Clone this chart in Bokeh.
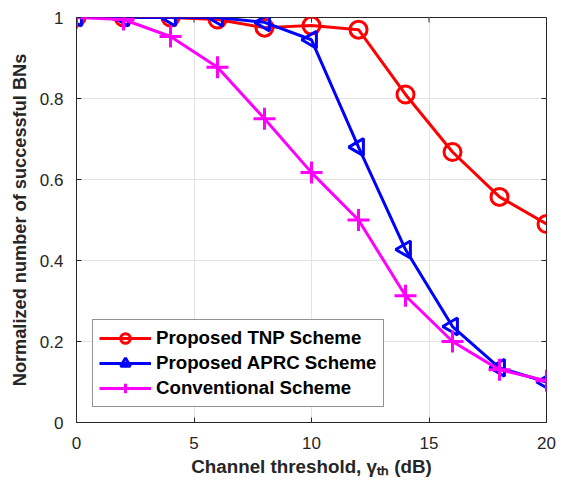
import numpy as np
from bokeh.plotting import figure
from bokeh.models import Range1d, FixedTicker, Legend, LegendItem
from bokeh.embed import file_html
from bokeh.resources import INLINE

x_vals = [0, 2, 4, 6, 8, 10, 12, 14, 16, 18, 20]
tnp = [1.0, 1.0, 1.0, 0.995, 0.975, 0.98, 0.97, 0.81, 0.668, 0.557, 0.49]
aprc = [1.0, 1.0, 1.0, 1.0, 0.988, 0.945, 0.68, 0.427, 0.237, 0.135, 0.10]
conv = [1.0, 0.995, 0.953, 0.877, 0.75, 0.617, 0.5, 0.313, 0.2, 0.13, 0.103]
x_ticks = [0, 5, 10, 15, 20]
y_ticks = [0, 0.2, 0.4, 0.6, 0.8, 1.0]
y_tick_labels = {0: "0", 0.2: "0.2", 0.4: "0.4", 0.6: "0.6", 0.8: "0.8", 1: "1"}
X_MIN, X_MAX, Y_MIN, Y_MAX = 0, 20, 0, 1

FONT = "Liberation Sans"
TXT = "#262626"

p = figure(width=558, height=481, output_backend="svg", toolbar_location=None,
           x_range=Range1d(X_MIN, X_MAX), y_range=Range1d(Y_MIN, Y_MAX),
           min_border_left=76, min_border_right=12, min_border_top=17, min_border_bottom=59)
p.outline_line_color = TXT
p.outline_line_width = 1
p.background_fill_color = "white"

for ax in [p.xaxis[0], p.yaxis[0]]:
    ax.major_label_text_font = FONT
    ax.major_label_text_font_size = "17px"
    ax.major_label_text_color = TXT
    ax.axis_label_text_font = FONT
    ax.axis_label_text_font_style = "bold"
    ax.axis_label_text_color = TXT
    ax.axis_line_color = TXT
    ax.major_tick_line_color = TXT
    ax.major_tick_in = 5
    ax.major_tick_out = 0
    ax.minor_tick_line_color = None

p.xaxis.ticker = FixedTicker(ticks=x_ticks)
p.yaxis.ticker = FixedTicker(ticks=y_ticks)
p.yaxis.major_label_overrides = y_tick_labels
p.xaxis.axis_label = "Channel threshold, γₜₕ (dB)"
p.yaxis.axis_label = "Normalized number of successful BNs"
p.xaxis.axis_label_text_font_size = "18.8px"
p.yaxis.axis_label_text_font_size = "18.2px"
p.yaxis.major_label_standoff = 13
p.yaxis.axis_label_standoff = 7
p.xaxis.major_label_standoff = 14
p.xaxis.axis_label_standoff = 4

# inward ticks on the top and right edges of the box
p.ray(x=x_ticks, y=[Y_MAX] * len(x_ticks), length=5, length_units="screen",
      angle=-np.pi / 2, line_color=TXT, line_width=1)
p.ray(x=[X_MAX] * len(y_ticks), y=y_ticks, length=5, length_units="screen",
      angle=np.pi, line_color=TXT, line_width=1)

p.xgrid.ticker = FixedTicker(ticks=x_ticks)
p.ygrid.ticker = FixedTicker(ticks=y_ticks)
p.grid.grid_line_color = "#e3e3e3"
p.grid.grid_line_width = 1

LW = 3
r1l = p.line(x_vals, tnp, line_color="red", line_width=LW)
r1m = p.scatter(x_vals, tnp, marker="circle", size=17, fill_color=None,
                line_color="red", line_width=LW)
r2l = p.line(x_vals, aprc, line_color="blue", line_width=LW)
r2m = p.scatter(x_vals, aprc, marker="triangle", size=17, angle=np.pi / 2,
                fill_color=None, line_color="blue", line_width=LW)
r3l = p.line(x_vals, conv, line_color="magenta", line_width=LW)
r3m = p.scatter(x_vals, conv, marker="cross", size=22, line_color="magenta",
                line_width=LW)

legend = Legend(items=[
    LegendItem(label="Proposed TNP Scheme", renderers=[r1l, r1m]),
    LegendItem(label="Proposed APRC Scheme", renderers=[r2l, r2m]),
    LegendItem(label="Conventional Scheme", renderers=[r3l, r3m]),
], location=(16, 15))
legend.label_text_font = FONT
legend.label_text_font_size = "18.7px"
legend.label_text_font_style = "bold"
legend.label_text_color = "black"
legend.border_line_color = TXT
legend.border_line_width = 1
legend.glyph_width = 52
legend.glyph_height = 24
legend.label_height = 24
legend.spacing = 1
legend.padding = 6
legend.margin = 0
legend.label_standoff = 5
legend.background_fill_alpha = 1
p.add_layout(legend, "center")

open("out.html", "w").write(file_html(p, INLINE))
